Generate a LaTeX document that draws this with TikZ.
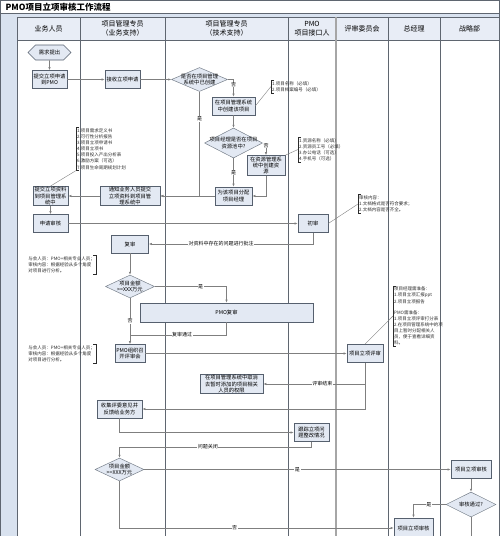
\documentclass[tikz,border=0pt]{standalone}
\usepackage{fontspec}
\setmainfont{Noto Sans CJK SC}
\usetikzlibrary{arrows.meta,shapes.geometric,shapes.symbols}
\definecolor{laneclr}{HTML}{5F6670}
\definecolor{headfill}{HTML}{E8EDF6}
\definecolor{stripfill}{HTML}{D9E2EF}
\definecolor{boxfill}{HTML}{E3E9F3}
\definecolor{boxline}{HTML}{56606E}
\definecolor{wirec}{HTML}{7F7F7F}
\definecolor{notec}{HTML}{2B2B2B}

\begin{document}
\begin{tikzpicture}[x=1pt,y=-1pt,font=\fontsize{5.3}{6.2}\selectfont,
    proc/.style={draw=boxline,line width=0.6pt,fill=boxfill,inner sep=1pt,
                 align=center,minimum width=#1,minimum height=18},
    proc/.default=35,
    hexa/.style={signal,signal to=west and east,draw=boxline,line width=0.6pt,
                 fill=boxfill,minimum width=43,minimum height=15,inner sep=1pt},
    deci/.style={diamond,draw=boxline!80,line width=0.5pt,fill=boxfill,inner sep=0pt},
    dtxt/.style={align=center,inner sep=0pt},
    flow/.style={draw=wirec,line width=0.6pt,-{Latex[length=3pt,width=2.4pt]}},
    wire/.style={draw=wirec,line width=0.6pt},
    tag/.style={fill=white,inner sep=0.6pt,font=\fontsize{5}{6}\selectfont},
    memo/.style={align=left,inner sep=1pt,text=notec,font=\fontsize{4.5}{6.1}\selectfont},
    memoln/.style={draw=wirec,line width=0.4pt},
    brk/.style={draw=notec,line width=0.5pt},
    lane/.style={draw=laneclr,line width=0.6pt},
    head/.style={align=center,font=\fontsize{7}{9.5}\selectfont}]
  \useasboundingbox (0,0) rectangle (500,536);
  \clip (0,0) rectangle (500,536);

  % swimlane frame
  \fill[stripfill] (0,13) rectangle (17,540);
  \fill[stripfill] (17,13) rectangle (499,17);
  \fill[headfill] (17,17) rectangle (499,40);
  \draw[lane] (0.4,0.4) rectangle (499,540);
  \draw[lane] (0,13) -- (499,13);
  \draw[lane] (17,17) -- (499,17);
  \draw[lane] (17,40) -- (499,40);
  \foreach \x in {17,80,165,288,388,440}
    \draw[lane] (\x,17) -- (\x,540);
  \draw[draw=gray!70,line width=1.4pt] (336,17) -- (336,540);

  \node[anchor=west,font=\fontsize{8.5}{10}\selectfont\bfseries] (title) at (2,7) {PMO项目立项审核工作流程};
  \node[head] (h1) at (48.5,28.5) {业务人员};
  \node[head] (h2) at (122.5,28.5) {项目管理专员\\（业务支持）};
  \node[head] (h3) at (226.5,28.5) {项目管理专员\\（技术支持）};
  \node[head] (h4) at (312,28.5) {PMO\\项目接口人};
  \node[head] (h5) at (362,28.5) {评审委员会};
  \node[head] (h6) at (414,28.5) {总经理};
  \node[head] (h7) at (469.5,28.5) {战略部};

  % steps
  \node[hexa] (need) at (49.5,52.5) {需求提出};
  \node[proc] (apply) at (49.5,79.5) {提交立项申请\\到PMO};
  \node[proc] (recv) at (122.5,79.5) {接收立项申请};
  \node[deci,minimum width=56,minimum height=24,
        label={[dtxt]center:是否在项目管理\\系统中已创建}] (exist) at (199.5,79.5) {};
  \node[proc=43] (create) at (233.5,106) {在项目管理系统\\中创建该项目};
  \node[deci,minimum width=58,minimum height=30,
        label={[dtxt]center:项目经理是否在项目\\资源池中?}] (pool) at (233.5,143) {};
  \node[proc=38,minimum height=20] (res) at (266,165.5) {在资源管理系\\统中创建资\\源};
  \node[proc=37] (assign) at (233.5,196) {为该项目分配\\项目经理};
  \node[proc=60,minimum height=19] (notify) at (130,196) {通知业务人员提交\\立项资料到项目管\\理系统中};
  \node[proc,minimum height=19] (submit) at (50.5,196) {提交立项资料\\到项目管理系\\统中};
  \node[proc] (req) at (50.5,223.5) {申请审核};
  \node[proc=30] (first) at (313,223.5) {初审};
  \node[proc=37] (second) at (130,244) {复审};
  \node[deci,minimum width=49,minimum height=23,
        label={[dtxt]center:项目金额\\>=XXX万元}] (amt1) at (130,286.5) {};
  \node[proc=173,minimum height=19] (pmorev) at (226.5,312.5) {PMO复审};
  \node[proc=30] (meet) at (130,353.5) {PMO组织召\\开评审会};
  \node[proc=36] (review) at (365,353.5) {项目立项评审};
  \node[proc=63,minimum height=19] (revoke) at (231.5,384) {在项目管理系统中取消\\去暂时添加的项目相关\\人员的权限};
  \node[proc=45] (collect) at (119.5,409) {收集评委意见并\\反馈给业务方};
  \node[proc=35] (track) at (311.5,432.5) {跟踪立项问\\题整改情况};
  \node[deci,minimum width=49,minimum height=23,
        label={[dtxt]center:项目金额\\>=XXX万元}] (amt2) at (119.5,469.5) {};
  \node[proc=40] (strat) at (471,469.5) {项目立项审核};
  \node[deci,minimum width=50,minimum height=25,
        label={[dtxt]center:审核通过?}] (pass) at (471,504.5) {};
  \node[proc=39,minimum height=20] (gm) at (413.5,528) {项目立项审核};

  \coordinate (join) at (130,335);
  \coordinate (close) at (119.5,447);
  \coordinate (passout) at (471,545);

  % notes
  \node[memo,anchor=west] (fieldsN) at (271,86.5) {1.项目名称（必填）\\2.项目档案编号（必填）};
  \node[memo,anchor=west] (resN) at (298,149.5) {1.资源名称（必填）\\2.资源员工号（必填）\\3.办公电话（可选）\\4.手机号（可选）};
  \node[memo,anchor=west] (docN) at (76,149) {1.项目需求定义书\\2.可行性分析报告\\3.项目立项申请书\\4.项目立项书\\5.项目投入产出分析表\\6.激励方案（可选）\\7.项目生命周期规划计划};
  \node[memo,anchor=west] (checkN) at (358,204) {审核内容：\\1.文档格式是否符合要求；\\2.文档内容是否齐全。};
  \node[memo,anchor=east] (secondN) at (96,265) {与会人员：PMO+相关专业人员；\\审核内容：根据经验从多个角度\\对项目进行分析。};
  \node[memo,anchor=east] (meetN) at (96,353.5) {与会人员：PMO+相关专业人员；\\审核内容：根据经验从多个角度\\对项目进行分析。};
  \node[memo,anchor=west] (reviewN) at (393,316) {项目经理需准备：\\1.项目立项汇报ppt\\2.项目立项报告\\[5pt]PMO需准备：\\1.项目立项评审打分表\\2.在项目管理系统中的项\\目上暂时分配相关人\\员，便于查看详细资\\料。};

  \foreach \n in {fieldsN,resN,docN,checkN,reviewN}
    \draw[brk] ([xshift=3]\n.north west) -- (\n.north west) -- (\n.south west) -- ([xshift=3]\n.south west);
  \foreach \n in {secondN,meetN}
    \draw[brk] ([xshift=-3]\n.north east) -- (\n.north east) -- (\n.south east) -- ([xshift=-3]\n.south east);

  \draw[memoln] (create.east) -- (fieldsN.west);
  \draw[memoln] (res.north east) -- (resN.west);
  \draw[memoln] (docN.south west) -- (submit.north);
  \draw[memoln] (first.east) -- (checkN.west);
  \draw[memoln] (review.north) -- (reviewN.west);

  % flow
  \draw[flow] (need) -- (apply);
  \draw[flow] (apply) -- (recv);
  \draw[flow] (recv) -- (exist.west);
  \draw[flow] (exist.east) -| node[tag,pos=0.65]{否} (create.north);
  \draw[flow] (exist.south) |- node[tag,pos=0.13]{是} (notify.east);
  \draw[flow] (create) -- (pool);
  \draw[flow] (pool.east) -| node[tag,pos=0.6]{否} (res.north);
  \draw[flow] (pool.south) -- node[tag]{是} (assign.north);
  \draw[flow] (res.south) |- (assign.east);
  \draw[flow] (assign.west) -- (notify.east);
  \draw[flow] (notify.west) -- (submit.east);
  \draw[flow] (submit) -- (req);
  \draw[flow] (req) -- (first);
  \draw[flow] (first.south) |- node[tag,pos=0.78]{对资料中存在的问题进行批注} (second.east);
  \draw[flow] (second) -- (amt1);
  \draw[flow] (amt1.east) -| node[tag,pos=0.32]{是} (pmorev.north);
  \draw[flow] (amt1.south) -- node[tag]{否} (meet.north);
  \draw[wire] (pmorev.south) |- node[tag,pos=0.73]{复审通过} (join);
  \draw[flow] (meet) -- (review);
  \draw[flow] (review.south) |- node[tag,pos=0.71]{评审结束} (revoke.east);
  \draw[flow] (review.south) |- (collect.east);
  \draw[flow] (collect.south) |- (track.west);
  \draw[flow] (track.south) |- node[tag,pos=0.77]{问题关闭} (close) -- (amt2.north);
  \draw[flow] (amt2) -- node[tag]{是} (strat);
  \draw[flow] (amt2.south) |- node[tag,pos=0.71]{否} (gm.west);
  \draw[flow] (strat) -- (pass);
  \draw[flow] (pass.west) -| node[tag,pos=0.26]{是} (gm.north);
  \draw[wire] (pass.south) -- (passout);
\end{tikzpicture}
\end{document}
